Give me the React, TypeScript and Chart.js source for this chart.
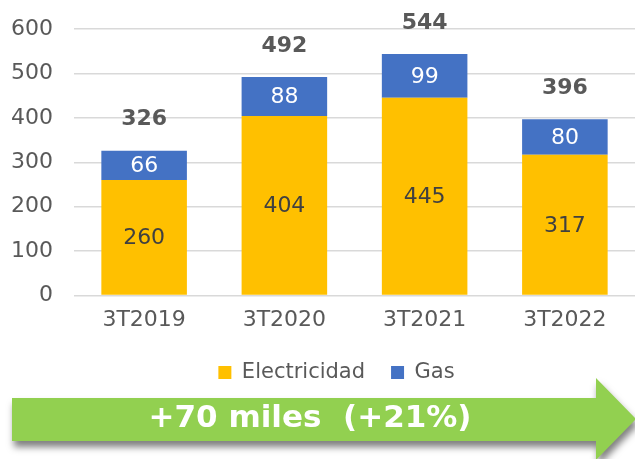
import React, { useEffect, useRef } from "react";
import { Chart, registerables } from "chart.js";

Chart.register(...registerables);

const categories = ["3T2019", "3T2020", "3T2021", "3T2022"];
const electricidad = [260, 404, 445, 317];
const gas = [66, 88, 99, 80];
const totals = [326, 492, 544, 396];
const yTicks = [0, 100, 200, 300, 400, 500, 600];
const arrowText = "+70 miles  (+21%)";

const FONT = "'DejaVu Sans', sans-serif";

const labelPlugin = {
  id: "labels",
  afterLayout(chart: any) {
    if (chart.legend) {
      chart.legend.left += 14;
      chart.legend.right += 14;
    }
  },
  afterDatasetsDraw(chart: any) {
    const ctx = chart.ctx;
    ctx.save();
    ctx.textAlign = "center";
    ctx.textBaseline = "middle";
    chart.data.datasets.forEach((ds: any, di: number) => {
      const meta = chart.getDatasetMeta(di);
      meta.data.forEach((bar: any, i: number) => {
        const cy = (bar.y + bar.base) / 2;
        ctx.font = `22px ${FONT}`;
        ctx.fillStyle = di === 0 ? "#404040" : "#ffffff";
        ctx.fillText(String(ds.data[i]), bar.x, cy + 1);
      });
    });
    const top = chart.getDatasetMeta(1);
    top.data.forEach((bar: any, i: number) => {
      ctx.font = `bold 22px ${FONT}`;
      ctx.fillStyle = "#595959";
      ctx.fillText(String(totals[i]), bar.x, bar.y - 31);
    });
    ctx.restore();
  },
  afterDraw(chart: any) {
    const ctx = chart.ctx;
    ctx.save();
    ctx.beginPath();
    ctx.moveTo(12, 398);
    ctx.lineTo(596, 398);
    ctx.lineTo(596, 378);
    ctx.lineTo(636, 419);
    ctx.lineTo(596, 460);
    ctx.lineTo(596, 441);
    ctx.lineTo(12, 441);
    ctx.closePath();
    ctx.shadowColor = "rgba(0,0,0,0.5)";
    ctx.shadowOffsetX = 2;
    ctx.shadowOffsetY = 6;
    ctx.shadowBlur = 7;
    ctx.fillStyle = "#92d050";
    ctx.fill();
    ctx.shadowColor = "transparent";
    ctx.font = `bold 31px ${FONT}`;
    ctx.fillStyle = "#ffffff";
    ctx.textAlign = "center";
    ctx.textBaseline = "middle";
    ctx.fillText(arrowText, 310, 419);
    ctx.restore();
  },
};

export default function App() {
  const ref = useRef<HTMLCanvasElement>(null);
  useEffect(() => {
    if (!ref.current) return;
    const chart = new Chart(ref.current, {
      type: "bar",
      data: {
        labels: categories,
        datasets: [
          {
            label: "Electricidad",
            data: electricidad,
            backgroundColor: "#ffc000",
            barPercentage: 0.61,
            categoryPercentage: 1,
          },
          {
            label: "Gas",
            data: gas,
            backgroundColor: "#4472c4",
            barPercentage: 0.61,
            categoryPercentage: 1,
          },
        ],
      },
      options: {
        animation: false,
        responsive: false,
        layout: { padding: { top: 29, left: 10, right: 0, bottom: 66 } },
        scales: {
          x: {
            stacked: true,
            grid: { display: false },
            border: { display: false },
            ticks: { color: "#595959", font: { family: FONT, size: 22 }, padding: 3 },
          },
          y: {
            stacked: true,
            min: 0,
            max: 600,
            afterBuildTicks: (axis: any) => {
              axis.ticks = yTicks.map((v) => ({ value: v }));
            },
            afterFit: (axis: any) => {
              axis.width = 64;
              axis.paddingTop = 0;
              axis.paddingBottom = 0;
            },
            grid: { color: "#d9d9d9", lineWidth: 1.5, drawTicks: false },
            border: { display: false },
            ticks: { color: "#595959", font: { family: FONT, size: 22 }, padding: 21 },
          },
        },
        plugins: {
          legend: {
            position: "bottom",
            labels: {
              color: "#595959",
              font: { family: FONT, size: 21 },
              boxWidth: 13,
              boxHeight: 13,
              padding: 26,
            },
          },
          tooltip: { enabled: false },
        },
      },
      plugins: [labelPlugin],
    });
    return () => chart.destroy();
  }, []);
  return (
    <div style={{ position: "fixed", left: 0, top: 0, width: 635, height: 459, background: "#fff" }}>
      <canvas ref={ref} width={635} height={459} style={{ display: "block" }} />
    </div>
  );
}
